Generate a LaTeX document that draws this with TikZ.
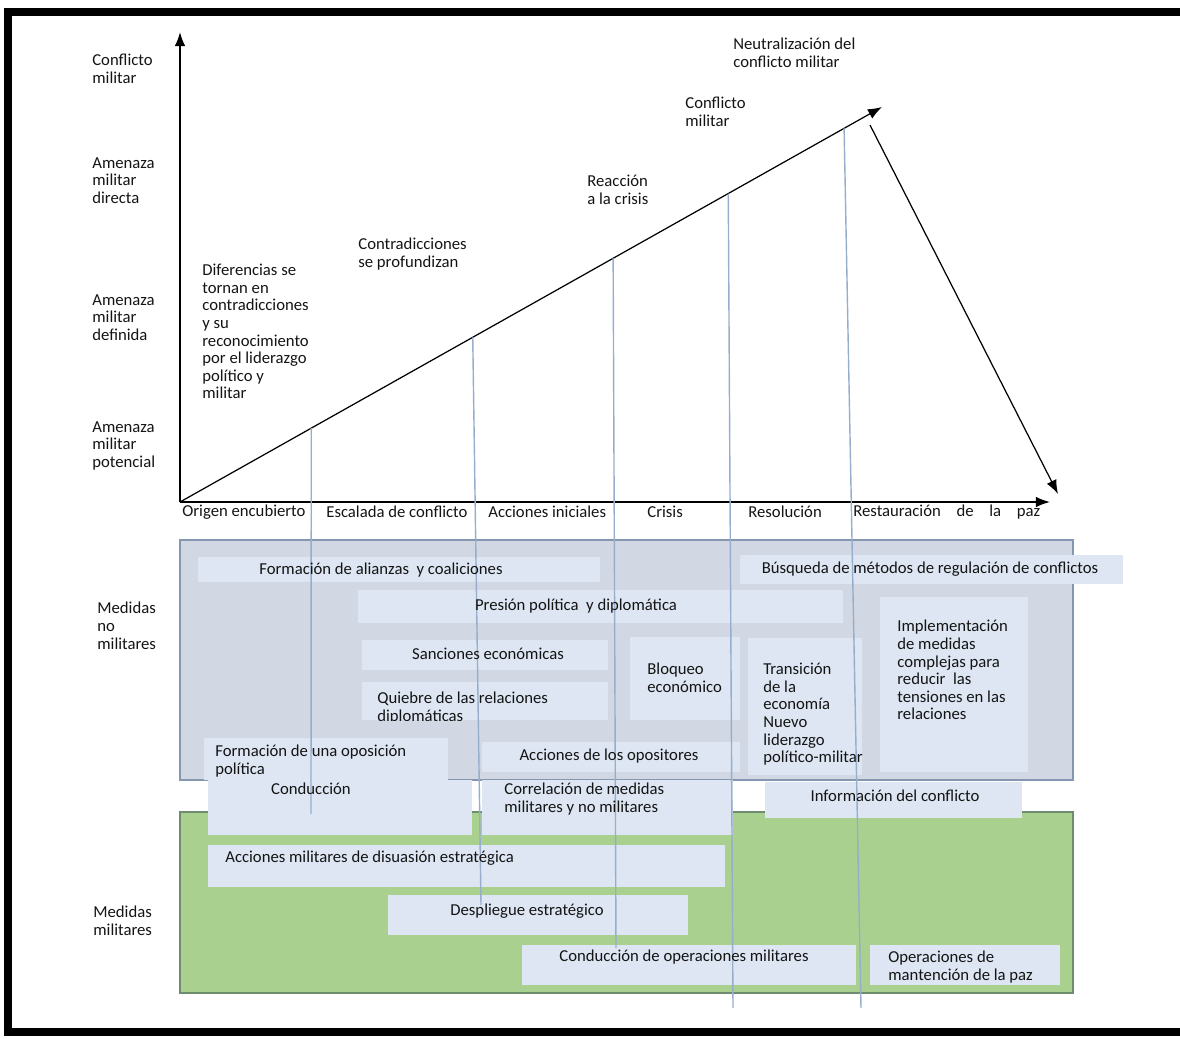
\documentclass[tikz,border=0pt]{standalone}
\usepackage{fontspec}
\setmainfont{Carlito}
\usetikzlibrary{arrows.meta,calc,fit}

\definecolor{tinta}{RGB}{20,20,20}
\definecolor{zonagris}{RGB}{210,216,227}
\definecolor{bordegris}{RGB}{132,150,176}
\definecolor{zonaverde}{RGB}{169,208,142}
\definecolor{bordeverde}{RGB}{110,140,110}
\definecolor{caja}{RGB}{221,230,242}
\definecolor{guia}{RGB}{150,174,204}

\tikzset{
  texto/.style={font=\fontsize{9.5}{10}\selectfont, text=tinta, inner sep=0pt, align=left},
  recuadro/.style={fill=caja, inner sep=0pt, outer sep=0pt},
  zona/.style={inner sep=0pt, outer sep=0pt, line width=0.9pt},
  guia/.style={draw=guia, line width=0.8pt},
  eje/.style={line width=0.9pt, -{Latex[length=8pt,width=6pt]}},
}

\begin{document}
\begin{tikzpicture}[x=0.02cm,y=-0.02cm]
\useasboundingbox (0,0) rectangle (1180,1038);

% marco
\fill (4,8) rectangle (1180,16);
\fill (4,8) rectangle (12,1036);
\fill (4,1028) rectangle (1180,1036);

% ejes
\coordinate (O) at (180,502);
\coordinate (arriba) at (180,32);
\coordinate (derecha) at (1050,502);
\coordinate (cima) at (882,107);
\coordinate (salida) at (870,125);
\coordinate (fin) at (1058,494);
\draw[eje] (O) -- (arriba);
\draw[eje] (O) -- (derecha);
\draw[line width=0.7pt, -{Latex[length=8pt,width=6pt]}] (O) -- (cima);
\draw[line width=0.7pt, -{Latex[length=8pt,width=6pt]}] (salida) -- (fin);

% zonas
\node[zona, draw=bordegris, fill=zonagris, fit={(180,540) (1073,780)}] (nomil) {};
\node[zona, draw=bordeverde, fill=zonaverde, fit={(180,812) (1073,993)}] (mil) {};

% recuadros de medidas
\node[recuadro, fit={(198,557) (600,582)}] (alianzas) {};
\node[recuadro, fit={(740,555) (1123,584)}] (busqueda) {};
\node[recuadro, fit={(358,590) (843,623)}] (presion) {};
\node[recuadro, fit={(362,640) (608,670)}] (sanciones) {};
\node[recuadro, fit={(362,682) (608,720)}] (quiebre) {};
\node[recuadro, fit={(630,637) (740,720)}] (bloqueo) {};
\node[recuadro, fit={(748,638) (862,775)}] (transicion) {};
\node[recuadro, fit={(880,597) (1028,772)}] (implementacion) {};
\node[recuadro, fit={(204,738) (448,780)}] (oposicion) {};
\node[recuadro, fit={(482,742) (740,772)}] (opositores) {};
\node[recuadro, fit={(208,780) (472,835)}] (conduccion) {};
\node[recuadro, fit={(482,780) (733,835)}] (correlacion) {};
\node[recuadro, fit={(765,782) (1022,818)}] (informacion) {};
\node[recuadro, fit={(208,845) (725,887)}] (disuasion) {};
\node[recuadro, fit={(388,895) (688,935)}] (despliegue) {};
\node[recuadro, fit={(522,945) (856,985)}] (operaciones) {};
\node[recuadro, fit={(870,945) (1060,985)}] (mantencion) {};

% lineas guia
\coordinate (g1) at ($(O)!0.187!(cima)$);
\coordinate (g2) at ($(O)!0.417!(cima)$);
\coordinate (g3) at ($(O)!0.617!(cima)$);
\coordinate (g4) at ($(O)!0.781!(cima)$);
\coordinate (g5) at ($(O)!0.946!(cima)$);
\coordinate (p1) at (311,814);
\coordinate (p2) at (481,905);
\coordinate (p3) at (616,948);
\coordinate (p4) at (733,1008);
\coordinate (p5) at (861,1008);
\draw[guia] (g1) -- (p1);
\draw[guia] (g2) -- (p2);
\draw[guia] (g3) -- (p3);
\draw[guia] (g4) -- (p4);
\draw[guia] (g5) -- (p5);

% niveles
\node[texto, anchor=north west] (conflicto) at (92,54) {Conflicto\\militar};
\node[texto, anchor=north west] (directa) at (92,157) {Amenaza\\militar\\directa};
\node[texto, anchor=north west] (definida) at (92,294) {Amenaza\\militar\\definida};
\node[texto, anchor=north west] (potencial) at (92,421) {Amenaza\\militar\\potencial};
\node[texto, anchor=north west] (medidasnm) at (97,602) {Medidas\\no\\militares};
\node[texto, anchor=north west] (medidasm) at (93,906) {Medidas\\militares};

% etapas sobre la diagonal
\node[texto, anchor=north west] (diferencias) at (202,264) {Diferencias se\\tornan en\\contradicciones\\y su\\reconocimiento\\por el liderazgo\\político y\\militar};
\node[texto, anchor=north west] (profundizan) at (358,238) {Contradicciones\\se profundizan};
\node[texto, anchor=north west] (reaccion) at (587,175) {Reacción\\a la crisis};
\node[texto, anchor=north west] (conflictomil) at (685,97) {Conflicto\\militar};
\node[texto, anchor=north west] (neutralizacion) at (733,38) {Neutralización del\\conflicto militar};

% fases
\node[texto, anchor=west] (origen) at (182,512) {Origen encubierto};
\node[texto, anchor=west] (escalada) at (326,512) {Escalada de conflicto};
\node[texto, anchor=west] (iniciales) at (488,512) {Acciones iniciales};
\node[texto, anchor=west] (crisis) at (647,512) {Crisis};
\node[texto, anchor=west] (resolucion) at (748,512) {Resolución};
\node[texto, anchor=west] (restauracion) at (853,512) {\makebox[3.74cm][s]{Restauración de la paz}};

% textos de medidas
\node[texto] (talianzas) at (381,570) {Formación de alianzas~ y coaliciones};
\node[texto] (tbusqueda) at (930,569) {Búsqueda de métodos de regulación de conflictos};
\node[texto] (tpresion) at (576,606) {Presión política~ y diplomática};
\node[texto] (tsanciones) at (488,654) {Sanciones económicas};
\begin{scope}
  \clip (quiebre.north west) rectangle (quiebre.south east);
  \node[texto, anchor=north west] (tquiebre) at (377,692) {Quiebre de las relaciones\\diplomáticas};
\end{scope}
\node[texto, anchor=north west] (tbloqueo) at (647,663) {Bloqueo\\económico};
\node[texto, anchor=north west] (ttransicion) at (763,663) {Transición\\de la\\economía\\Nuevo\\liderazgo\\político-militar};
\node[texto, anchor=north west] (timplementacion) at (897,620) {Implementación\\de medidas\\complejas para\\reducir~ las\\tensiones en las\\relaciones};
\node[texto, anchor=north west] (toposicion) at (215,745) {Formación de una oposición\\política};
\node[texto] (topositores) at (609,756) {Acciones de los opositores};
\node[texto] (tconduccion) at (311,789) {Conducción};
\node[texto, anchor=north west] (tcorrelacion) at (504,783) {Correlación de medidas\\militares y no militares};
\node[texto] (tinformacion) at (895,796) {Información del conflicto};
\node[texto, anchor=west] (tdisuasion) at (225,858) {Acciones militares de disuasión estratégica};
\node[texto] (tdespliegue) at (527,911) {Despliegue estratégico};
\node[texto] (toperaciones) at (684,957) {Conducción de operaciones militares};
\node[texto, anchor=north west] (tmantencion) at (888,951) {Operaciones de\\mantención de la paz};

\end{tikzpicture}
\end{document}
